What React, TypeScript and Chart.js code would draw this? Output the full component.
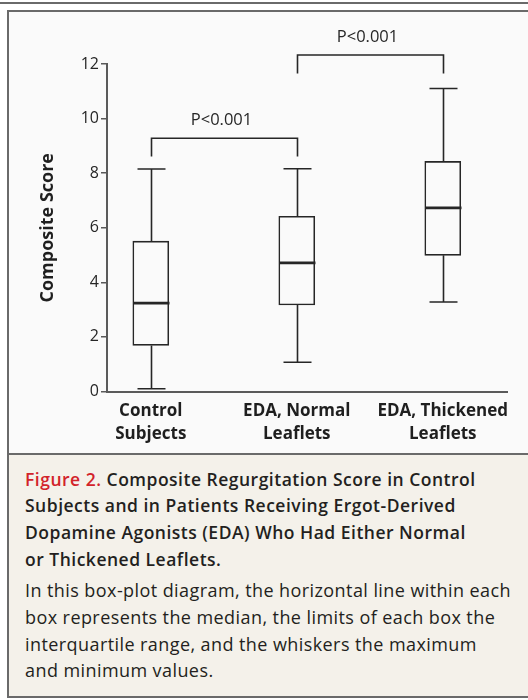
import React, { useEffect, useRef } from "react";
import { Chart, registerables } from "chart.js";

Chart.register(...registerables);

// ---- data ----
const categoryLabels: string[][] = [
  ["Control", "Subjects"],
  ["EDA, Normal", "Leaflets"],
  ["EDA, Thickened", "Leaflets"],
];
const positions = [1, 2, 3];
const minValues = [0.1, 1.07, 3.28];
const q1Values = [1.69, 3.17, 4.99];
const medianValues = [3.24, 4.71, 6.73];
const q3Values = [5.51, 6.42, 8.43];
const maxValues = [8.15, 8.16, 11.1];
const yTicks = [0, 2, 4, 6, 8, 10, 12];
const bracketFrom = [1, 2];
const bracketTo = [2, 3];
const bracketTop = [9.28, 12.33];
const bracketLegBottom = [8.61, 11.65];
const bracketLabels = ["P<0.001", "P<0.001"];

const INK = "#262626";
const AXIS = "#5a5a5a";
const FONT = "'Open Sans', 'Noto Sans', sans-serif";

const boxPlugin = {
  id: "boxWhiskers",
  afterDatasetsDraw(chart: any) {
    const { ctx } = chart;
    const xs = chart.scales.x;
    const ys = chart.scales.y;
    ctx.save();
    ctx.strokeStyle = INK;
    ctx.lineCap = "butt";
    positions.forEach((p, i) => {
      const cx = Math.round(xs.getPixelForValue(p)) + 0.5;
      const yMin = ys.getPixelForValue(minValues[i]);
      const yMax = ys.getPixelForValue(maxValues[i]);
      const yQ1 = ys.getPixelForValue(q1Values[i]);
      const yQ3 = ys.getPixelForValue(q3Values[i]);
      const yMed = ys.getPixelForValue(medianValues[i]);
      ctx.lineWidth = 1.6;
      ctx.beginPath();
      ctx.moveTo(cx, yQ3);
      ctx.lineTo(cx, yMax);
      ctx.moveTo(cx, yQ1);
      ctx.lineTo(cx, yMin);
      ctx.moveTo(cx - 14, yMax);
      ctx.lineTo(cx + 14, yMax);
      ctx.moveTo(cx - 14, yMin);
      ctx.lineTo(cx + 14, yMin);
      ctx.stroke();
      ctx.lineWidth = 2.8;
      ctx.beginPath();
      ctx.moveTo(cx - 18, yMed);
      ctx.lineTo(cx + 18, yMed);
      ctx.stroke();
    });
    ctx.restore();
  },
};

const bracketPlugin = {
  id: "brackets",
  afterDraw(chart: any) {
    const { ctx } = chart;
    const xs = chart.scales.x;
    const ys = chart.scales.y;
    ctx.save();
    ctx.strokeStyle = INK;
    ctx.lineWidth = 1.6;
    ctx.fillStyle = "#262626";
    ctx.font = `16.5px ${FONT}`;
    ctx.textAlign = "center";
    ctx.textBaseline = "middle";
    bracketFrom.forEach((from, i) => {
      const x1 = Math.round(xs.getPixelForValue(from)) + 0.5;
      const x2 = Math.round(xs.getPixelForValue(bracketTo[i])) + 0.5;
      const yt = ys.getPixelForValue(bracketTop[i]);
      const yb = ys.getPixelForValue(bracketLegBottom[i]);
      ctx.beginPath();
      ctx.moveTo(x1, yb);
      ctx.lineTo(x1, yt);
      ctx.lineTo(x2, yt);
      ctx.lineTo(x2, yb);
      ctx.stroke();
      ctx.fillText(bracketLabels[i], (x1 + x2) / 2 - 3, yt - 18);
    });
    ctx.restore();
  },
};

function BoxChart() {
  const ref = useRef<HTMLCanvasElement | null>(null);
  useEffect(() => {
    if (!ref.current) return;
    const chart = new Chart(ref.current, {
      type: "bar",
      data: {
        datasets: [
          {
            data: positions.map((p, i) => ({ x: p, y: [q1Values[i], q3Values[i]] })) as any,
            backgroundColor: "#fafafa",
            borderColor: INK,
            borderWidth: 1.6,
            borderSkipped: false,
            barThickness: 36,
          },
        ],
      },
      options: {
        animation: false,
        responsive: false,
        maintainAspectRatio: false,
        events: [],
        layout: { padding: { top: 64, right: 21, left: 0, bottom: 0 } },
        plugins: { legend: { display: false }, tooltip: { enabled: false } },
        scales: {
          x: {
            type: "linear",
            min: 0.7,
            max: 3.44,
            offset: false,
            afterBuildTicks: (scale: any) => {
              scale.ticks = positions.map((v) => ({ value: v }));
            },
            afterFit: (scale: any) => {
              scale.height = 60.5;
            },
            grid: { display: true, drawOnChartArea: false, drawTicks: false, offset: false },
            border: { display: true, color: AXIS, width: 2 },
            ticks: {
              autoSkip: false,
              maxRotation: 0,
              padding: 8,
              color: "#1f1f1f",
              font: { family: FONT, size: 17, weight: "bold", lineHeight: 1.34 },
              callback: (v: any) => {
                const idx = positions.indexOf(Number(v));
                return idx >= 0 ? categoryLabels[idx] : "";
              },
            },
          },
          y: {
            type: "linear",
            min: 0,
            max: 12,
            afterBuildTicks: (scale: any) => {
              scale.ticks = yTicks.map((v) => ({ value: v }));
            },
            afterFit: (scale: any) => {
              scale.width = 107;
            },
            grid: { drawOnChartArea: false, drawTicks: true, tickLength: 6, color: AXIS, lineWidth: 1.5 },
            border: { display: true, color: AXIS, width: 2 },
            ticks: {
              padding: 2,
              color: "#262626",
              font: { family: FONT, size: 16 },
            },
            title: {
              display: true,
              text: "Composite Score",
              color: "#1f1f1f",
              font: { family: FONT, size: 18, weight: "bold" },
              padding: { top: 37, bottom: 0 },
            },
          },
        },
      },
      plugins: [boxPlugin, bracketPlugin],
    } as any);
    return () => chart.destroy();
  }, []);
  return (
    <canvas
      ref={ref}
      width={528}
      height={452}
      style={{ position: "absolute", left: 0, top: 0, width: 528, height: 452 }}
    />
  );
}

export default function App() {
  useEffect(() => {
    document.body.style.margin = "0";
  }, []);
  const lineStyle: React.CSSProperties = { whiteSpace: "nowrap" };
  return (
    <div
      style={{
        position: "relative",
        width: 528,
        height: 700,
        overflow: "hidden",
        background: "#ffffff",
        fontFamily: FONT,
      }}
    >
      {/* top rule */}
      <div style={{ position: "absolute", left: 0, top: 2, width: 528, height: 2, background: "#6a6a6a" }} />
      {/* frame */}
      <div
        style={{
          position: "absolute",
          left: 7,
          top: 10,
          width: 540,
          height: 688,
          boxSizing: "border-box",
          border: "2px solid #6a6a6a",
          background: "#fafafa",
        }}
      />
      {/* caption area */}
      <div
        style={{
          position: "absolute",
          left: 9,
          top: 452.5,
          width: 540,
          height: 243.5,
          boxSizing: "border-box",
          borderTop: "2px solid #6a6a6a",
          background: "#f4f1ea",
          color: "#231f20",
          paddingLeft: 16,
          paddingTop: 11,
          fontSize: 18,
          lineHeight: "26.7px",
        }}
      >
        <div style={{ fontWeight: 600, fontSize: 17.5, letterSpacing: 0.5 }}>
          <div style={lineStyle}>
            <span style={{ color: "#d2232a" }}>Figure 2.</span> Composite Regurgitation Score in Control
          </div>
          <div style={lineStyle}>Subjects and in Patients Receiving Ergot-Derived</div>
          <div style={lineStyle}>Dopamine Agonists (EDA) Who Had Either Normal</div>
          <div style={lineStyle}>or Thickened Leaflets.</div>
        </div>
        <div style={{ marginTop: 5, letterSpacing: 0.42 }}>
          <div style={lineStyle}>In this box-plot diagram, the horizontal line within each</div>
          <div style={lineStyle}>box represents the median, the limits of each box the</div>
          <div style={lineStyle}>interquartile range, and the whiskers the maximum</div>
          <div style={lineStyle}>and minimum values.</div>
        </div>
      </div>
      <BoxChart />
    </div>
  );
}
